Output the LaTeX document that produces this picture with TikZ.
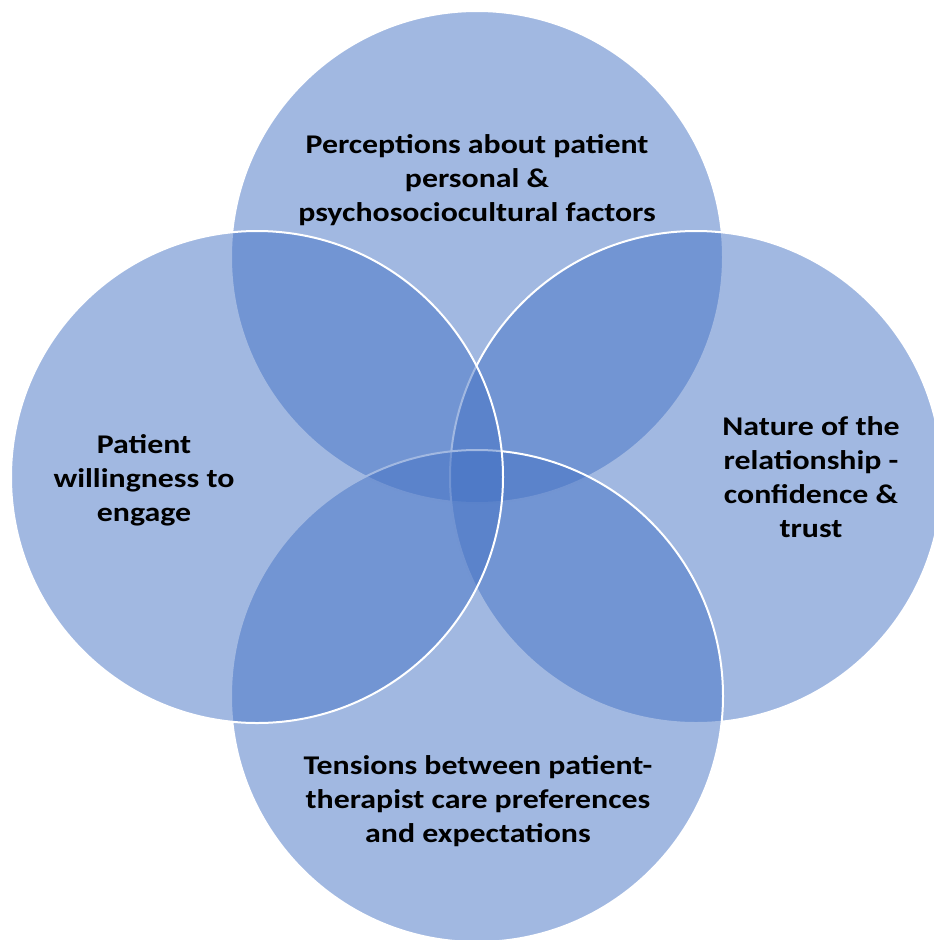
\documentclass[tikz,border=0pt]{standalone}
\usepackage{fontspec}
\setmainfont{Carlito}
\newfontfamily\vennfont{Carlito}[FakeStretch=1.18]
\definecolor{vennblue}{HTML}{4472C4}
\begin{document}
\begin{tikzpicture}[x=1pt,y=-1pt,
  venn/.style={fill=vennblue, fill opacity=0.5, draw=white, line width=2pt},
  venntext/.style={align=center, font=\vennfont\fontsize{27}{34}\selectfont\bfseries,
    text=black, inner sep=0pt}]
\useasboundingbox (0,0) rectangle (934,940);
% circle centres
\coordinate (ctop) at (477,257);
\coordinate (cleft) at (257,477);
\coordinate (cright) at (696,477);
\coordinate (cbottom) at (477,696);
% translucent circles, drawn top, right, bottom, left
\begin{scope}
  \clip (0,0) rectangle (934,940);
  \draw[venn] (ctop) circle[radius=246pt];
  \draw[venn] (cright) circle[radius=246pt];
  \draw[venn] (cbottom) circle[radius=246pt];
  \draw[venn] (cleft) circle[radius=246pt];
\end{scope}
% labels
\node[venntext] (ttop) at (477,180) {Perceptions about patient\\personal \&\\psychosociocultural factors};
\node[venntext] (tleft) at (144,480) {Patient\\willingness to\\engage};
\node[venntext] (tright) at (811,477) {Nature of the\\relationship -\\confidence \&\\trust};
\node[venntext] (tbottom) at (478,801) {Tensions between patient-\\therapist care preferences\\and expectations};
\end{tikzpicture}
\end{document}
